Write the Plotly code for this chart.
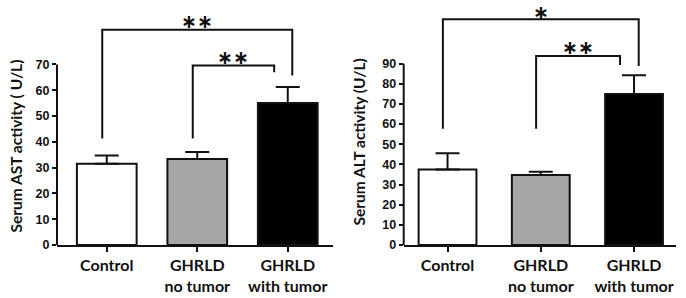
import plotly.graph_objects as go

# ---------------- data ----------------
categories = ["Control", "GHRLD<br>no tumor", "GHRLD<br>with tumor"]
ast_mean = [31.5, 33.3, 55.0]
ast_err = [3.2, 2.7, 6.2]
alt_mean = [37.5, 34.7, 74.9]
alt_err = [8.0, 1.7, 9.3]
bar_colors = ["#ffffff", "#a6a6a8", "#000000"]
ast_ticks = [0, 10, 20, 30, 40, 50, 60, 70]
alt_ticks = [0, 10, 20, 30, 40, 50, 60, 70, 80, 90]
ast_title = "Serum AST activity ( U/L)"
alt_title = "Serum ALT activity (U/L)"
# significance: (group i, group j, bracket height, left-leg bottom, right-leg bottom, label)
ast_sig = [(0, 2, 83.4, 41.3, 65.7, "∗∗"), (1, 2, 69.6, 41.3, 67.0, "∗∗")]
alt_sig = [(0, 2, 112.0, 57.7, 88.8, "∗"), (1, 2, 93.8, 57.7, 89.3, "∗∗")]
# label heights above brackets
ast_lab_y = [87.0, 73.0]
alt_lab_y = [115.8, 98.3]

# ---------------- style ----------------
INK = "#111111"
W, H = 686, 298
B = 53
leg_offsets = [(-0.05, 0.05), (-0.05, -0.15)]

xpos = list(range(len(categories)))

fig = go.Figure()

panels = [
    dict(mean=ast_mean, err=ast_err, ticks=ast_ticks, sig=ast_sig, laby=ast_lab_y,
         xa="x", ya="y", xdom=[57 / W, 333 / W], xr=[-0.55, 2.5], yr=[0, 94.96],
         width=0.66, title=ast_title, tx=15 / W, ty=(245 - 146.5) / 245),
    dict(mean=alt_mean, err=alt_err, ticks=alt_ticks, sig=alt_sig, laby=alt_lab_y,
         xa="x2", ya="y2", xdom=[403.7 / W, 676 / W], xr=[-0.47, 2.45], yr=[0, 121.55],
         width=0.62, title=alt_title, tx=358 / W, ty=(245 - 142.5) / 245),
]

for k, p in enumerate(panels):
    fig.add_trace(go.Bar(
        x=xpos, y=p["mean"], width=p["width"],
        marker=dict(color=bar_colors, line=dict(color=INK, width=2)),
        error_y=dict(type="data", array=p["err"], arrayminus=[0] * len(p["err"]),
                     symmetric=False, color=INK, thickness=2, width=12),
        xaxis=p["xa"], yaxis=p["ya"], showlegend=False, hoverinfo="skip",
    ))
    sfx = "" if k == 0 else "2"
    fig.update_layout(**{
        "xaxis" + sfx: dict(domain=p["xdom"], range=p["xr"], tickvals=xpos, ticktext=categories,
                            showline=True, linecolor=INK, linewidth=2, ticks="outside",
                            ticklen=5, tickwidth=2, tickcolor=INK, showgrid=False, zeroline=False,
                            tickfont=dict(family="Lato", size=16, color=INK, weight="bold"),
                            anchor=p["ya"]),
        "yaxis" + sfx: dict(domain=[0, 1], range=p["yr"], tickvals=p["ticks"],
                            showline=False, ticks="outside", ticklen=4, tickwidth=2,
                            tickcolor=INK, showgrid=False, zeroline=False,
                            tickfont=dict(family="Liberation Sans", size=12.5, color=INK, weight="bold"),
                            anchor=p["xa"]),
    })
    # y axis line up to the last tick
    fig.add_shape(type="line", xref=p["xa"] + " domain", yref=p["ya"], x0=0, x1=0,
                  y0=p["ticks"][0], y1=p["ticks"][-1], line=dict(color=INK, width=2))
    # brackets
    for s, (i, j, h, lb, rb, lab) in enumerate(p["sig"]):
        dl, dr = leg_offsets[s]
        xl, xr_ = i + dl, j + dr
        fig.add_shape(type="path", xref=p["xa"], yref=p["ya"],
                      path=f"M {xl},{lb} L {xl},{h} L {xr_},{h} L {xr_},{rb}",
                      line=dict(color=INK, width=2))
        fig.add_annotation(x=(xl + xr_) / 2, y=p["laby"][s], xref=p["xa"], yref=p["ya"],
                           text=lab, showarrow=False, yanchor="middle", borderpad=0,
                           font=dict(family="DejaVu Sans", size=19, color=INK, weight="bold"))
    fig.add_annotation(x=p["tx"], y=p["ty"], xref="paper", yref="paper", text=p["title"],
                       textangle=-90, showarrow=False, xanchor="center", yanchor="middle",
                       font=dict(family="Lato", size=15.5, color=INK, weight="bold"))

fig.update_layout(width=W, height=H, margin=dict(l=0, r=0, t=0, b=B),
                  paper_bgcolor="white", plot_bgcolor="white", bargap=0, hovermode=False)

fig.write_html("out.html", config={"displayModeBar": False, "staticPlot": True},
               post_script="document.body.style.margin='0';document.body.style.overflow='hidden';")
